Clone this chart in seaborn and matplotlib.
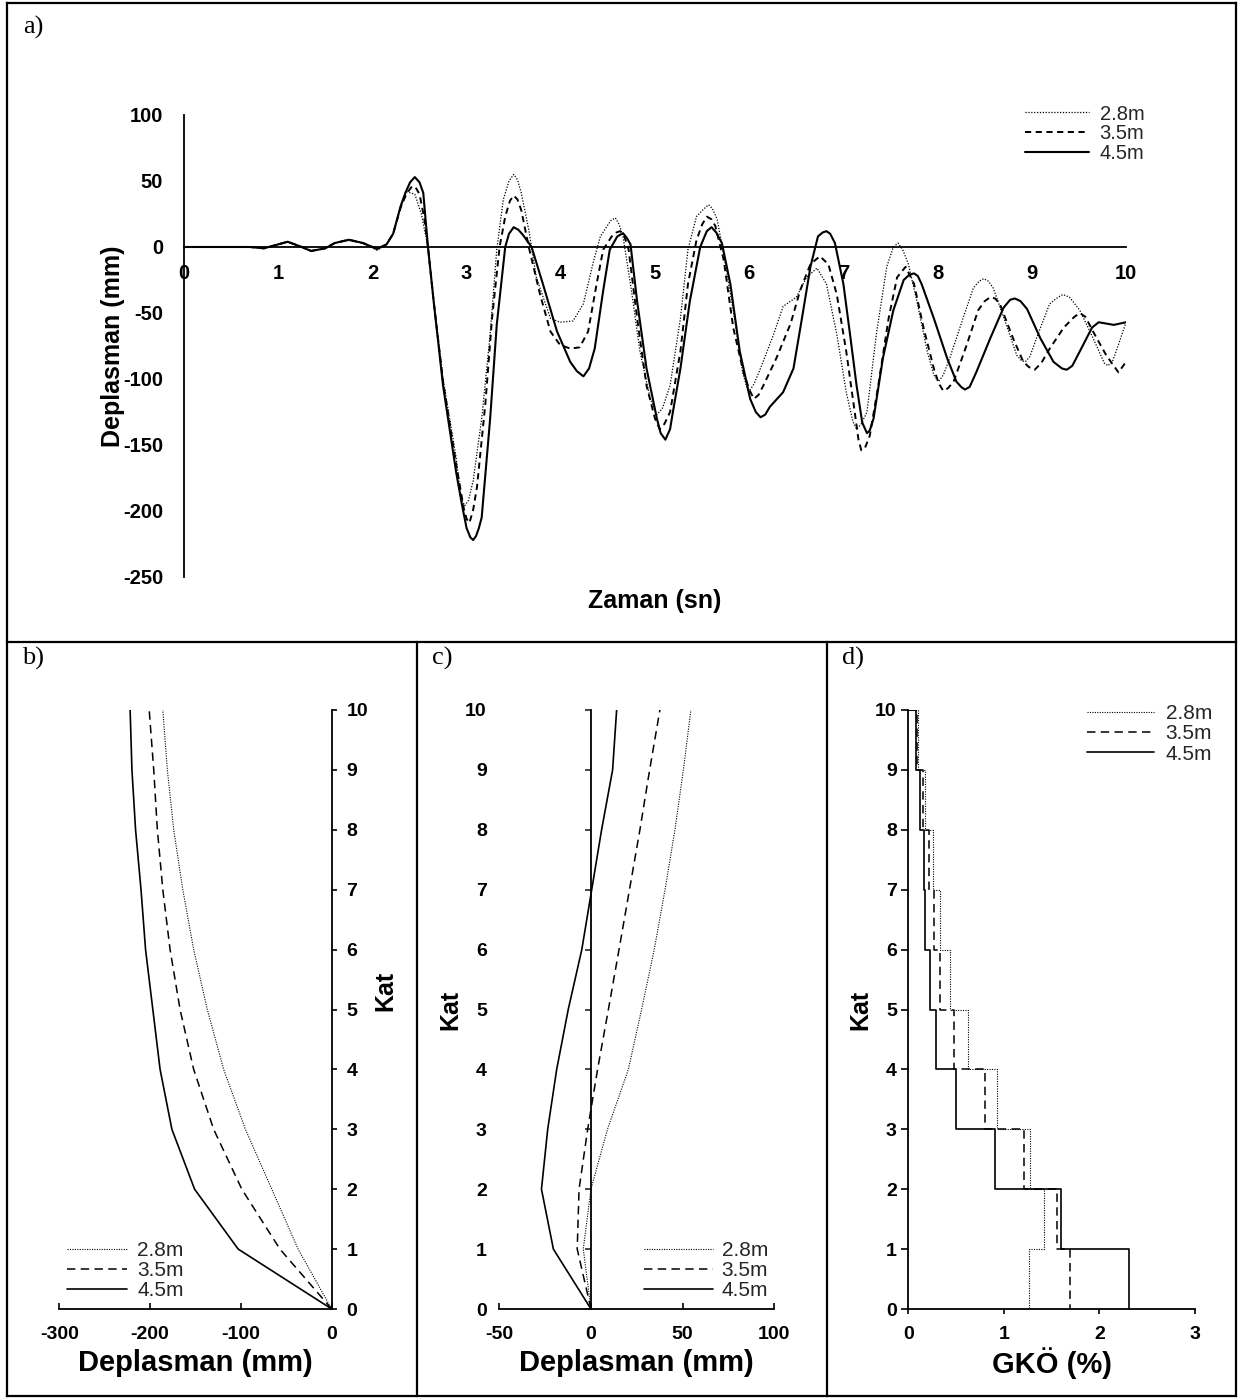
import numpy as np
import pandas as pd
import matplotlib
matplotlib.use("Agg")
import matplotlib.pyplot as plt
import seaborn as sns
from matplotlib.lines import Line2D

# ---------------- data ----------------
series_labels = ["2.8m", "3.5m", "4.5m"]

# a) time history of top displacement: (time s, displacement mm) readings
pts_28 = [(0, 0), (0.5, 0), (0.7, 0), (0.85, -1), (0.95, 1), (1.1, 3.5), (1.25, 0), (1.35, -3), (1.5, -1),
          (1.6, 3), (1.75, 5), (1.9, 3), (2.05, -2.5), (2.15, 2), (2.22, 10), (2.3, 30), (2.36, 42),
          (2.45, 40), (2.52, 25), (2.59, 0), (2.65, -40), (2.75, -100), (2.89, -160), (2.94, -190),
          (2.98, -196), (3.02, -192), (3.07, -177), (3.16, -130), (3.25, -66), (3.32, -2), (3.39, 36),
          (3.45, 50), (3.5, 55), (3.54, 51), (3.58, 41), (3.66, 13), (3.74, -23), (3.89, -54), (3.99, -57),
          (4.13, -56), (4.24, -43), (4.35, -10), (4.42, 8), (4.53, 20), (4.58, 22), (4.62, 17), (4.66, 8),
          (4.75, -33), (4.84, -79), (4.95, -115), (5.02, -127), (5.08, -122), (5.16, -105), (5.27, -54),
          (5.35, -2), (5.44, 23), (5.52, 29), (5.57, 32), (5.61, 29), (5.66, 21), (5.74, -10), (5.83, -48),
          (5.93, -95), (5.99, -110), (6.05, -104), (6.12, -92), (6.26, -66), (6.36, -45), (6.5, -38),
          (6.61, -23), (6.72, -16), (6.82, -28), (6.93, -66), (7.03, -110), (7.1, -132), (7.14, -138),
          (7.19, -134), (7.25, -125), (7.35, -66), (7.46, -15), (7.53, 0), (7.58, 3), (7.63, -2),
          (7.69, -13), (7.78, -41), (7.89, -79), (7.96, -97), (8.01, -102), (8.06, -97), (8.13, -84),
          (8.27, -54), (8.38, -31), (8.44, -26), (8.49, -24), (8.54, -26), (8.59, -31), (8.73, -59),
          (8.84, -82), (8.89, -86), (8.93, -87), (8.98, -83), (9.05, -69), (9.19, -43), (9.28, -38),
          (9.33, -36), (9.4, -38), (9.51, -48), (9.65, -69), (9.77, -88), (9.81, -90), (9.86, -86),
          (9.92, -74), (10.0, -57)]

pts_35 = [(0, 0), (0.5, 0), (0.7, 0), (0.85, -1), (0.95, 1), (1.1, 4), (1.25, 0), (1.35, -3), (1.5, -1),
          (1.6, 3), (1.75, 5.5), (1.9, 3), (2.05, -1.5), (2.15, 2), (2.22, 10), (2.3, 30), (2.36, 40),
          (2.42, 46), (2.46, 45), (2.5, 40), (2.55, 22), (2.59, 0), (2.65, -41), (2.75, -102), (2.89, -165),
          (2.97, -198), (3.0, -206), (3.03, -209), (3.07, -199), (3.11, -182), (3.2, -118), (3.27, -54),
          (3.35, 0), (3.41, 23), (3.46, 35), (3.5, 39), (3.54, 36), (3.58, 28), (3.66, 0), (3.78, -36),
          (3.89, -64), (3.99, -74), (4.1, -77), (4.2, -76), (4.29, -64), (4.38, -28), (4.45, -2), (4.54, 8),
          (4.59, 11), (4.63, 12), (4.67, 9), (4.72, -2), (4.81, -54), (4.91, -105), (5.0, -130),
          (5.05, -138), (5.1, -134), (5.16, -125), (5.27, -79), (5.35, -28), (5.44, 5), (5.5, 17),
          (5.55, 23), (5.6, 21), (5.64, 16), (5.73, -10), (5.83, -61), (5.94, -95), (6.0, -108),
          (6.05, -115), (6.1, -112), (6.15, -105), (6.29, -84), (6.44, -58), (6.54, -33), (6.65, -13),
          (6.75, -7), (6.84, -13), (6.93, -36), (7.03, -79), (7.12, -125), (7.16, -146), (7.19, -154),
          (7.23, -152), (7.28, -143), (7.37, -105), (7.48, -54), (7.57, -23), (7.66, -15), (7.75, -28),
          (7.85, -61), (7.96, -92), (8.01, -103), (8.06, -109), (8.11, -107), (8.17, -102), (8.31, -74),
          (8.43, -48), (8.5, -41), (8.56, -38), (8.61, -39), (8.66, -43), (8.8, -69), (8.91, -87),
          (8.97, -91), (9.03, -93), (9.1, -88), (9.19, -77), (9.34, -61), (9.45, -53), (9.51, -50),
          (9.57, -53), (9.65, -64), (9.79, -82), (9.92, -95), (10.0, -87)]

pts_45 = [(0, 0), (0.5, 0), (0.7, 0), (0.85, -1), (0.95, 1), (1.1, 4), (1.25, 0), (1.35, -3), (1.5, -1),
          (1.6, 3), (1.75, 5.5), (1.9, 3), (2.05, -1.5), (2.15, 2), (2.22, 10), (2.3, 31), (2.35, 41),
          (2.4, 49), (2.45, 53), (2.5, 49), (2.54, 41), (2.59, 0), (2.65, -41), (2.75, -105), (2.89, -171),
          (2.95, -195), (3.0, -213), (3.04, -220), (3.07, -222), (3.1, -219), (3.13, -213), (3.16, -205),
          (3.25, -130), (3.32, -59), (3.41, 0), (3.45, 10), (3.5, 15), (3.55, 13), (3.6, 9), (3.69, 0),
          (3.81, -28), (3.96, -64), (4.1, -87), (4.17, -94), (4.24, -98), (4.3, -92), (4.36, -77),
          (4.45, -33), (4.52, -2), (4.6, 8), (4.66, 10.5), (4.7, 7), (4.74, 2), (4.81, -41), (4.91, -92),
          (5.02, -130), (5.06, -141), (5.11, -146), (5.16, -138), (5.19, -125), (5.27, -92), (5.37, -41),
          (5.48, 0), (5.55, 12), (5.6, 15), (5.65, 11), (5.71, 3), (5.8, -28), (5.9, -79), (6.01, -115),
          (6.07, -125), (6.12, -129), (6.17, -127), (6.22, -121), (6.36, -110), (6.47, -92), (6.56, -54),
          (6.65, -15), (6.73, 8), (6.78, 11), (6.82, 12), (6.86, 10), (6.91, 3), (7.0, -28), (7.07, -66),
          (7.14, -105), (7.2, -133), (7.25, -141), (7.28, -139), (7.32, -130), (7.42, -84), (7.53, -48),
          (7.64, -25), (7.7, -21), (7.75, -20), (7.79, -22), (7.83, -28), (7.96, -54), (8.1, -84),
          (8.2, -102), (8.25, -106), (8.29, -108), (8.34, -106), (8.41, -95), (8.56, -69), (8.7, -46),
          (8.77, -40), (8.82, -39), (8.88, -41), (8.95, -47), (9.09, -69), (9.23, -87), (9.32, -92),
          (9.37, -93), (9.43, -90), (9.51, -79), (9.64, -61), (9.71, -57), (9.87, -59), (10.0, -57)]

floors = list(range(0, 11))
# b) floor displacement envelope (mm)
b_28 = [0, -37, -66, -95, -119, -137, -152, -164, -174, -181, -186]
b_35 = [0, -57, -99, -130, -152, -167, -178, -186, -192, -196, -201]
b_45 = [0, -103, -151, -176, -189, -197, -205, -210, -216, -220, -222]
# c) floor displacement (mm)
c_28 = [0, -4.2, 0, 9, 20.4, 27.6, 34.5, 40.4, 45.8, 50.4, 54.5]
c_35 = [0, -7.5, -6.5, -1.8, 3.6, 9.5, 15.3, 21, 26.7, 32, 37.6]
c_45 = [0, -20.5, -27, -23.6, -18.7, -12.4, -5, 0.4, 5.8, 11.8, 14]
# d) inter-storey drift ratio (%) for stories 1..10
stories = list(range(1, 11))
g_28 = [1.26, 1.42, 1.27, 0.93, 0.62, 0.44, 0.33, 0.26, 0.17, 0.10]
g_35 = [1.69, 1.56, 1.21, 0.80, 0.48, 0.33, 0.27, 0.22, 0.15, 0.09]
g_45 = [2.31, 1.60, 0.91, 0.50, 0.29, 0.23, 0.17, 0.16, 0.12, 0.08]

a_ticks_x = list(range(0, 11))
a_ticks_y = list(range(-250, 101, 50))

# ---------------- style ----------------
sns.set_theme(style="white")
plt.rcParams["font.family"] = ["Liberation Sans", "DejaVu Sans"]
plt.rcParams["font.weight"] = "bold"
plt.rcParams["axes.labelweight"] = "bold"
plt.rcParams["axes.unicode_minus"] = False

W, H = 1250, 1400
fig = plt.figure(figsize=(W / 100, H / 100), dpi=100)
fig.patch.set_facecolor("white")


def fr(x0, y_top, x1, y_bot):
    return [x0 / W, 1 - y_bot / H, (x1 - x0) / W, (y_bot - y_top) / H]


top_styles = {
    "2.8m": dict(lw=0.9, ls=(0, (1, 1.3))),
    "3.5m": dict(lw=1.4, ls=(0, (3.2, 2.3))),
    "4.5m": dict(lw=1.5, ls="-"),
}
bot_styles = {
    "2.8m": dict(lw=0.8, ls=(0, (1, 1.2))),
    "3.5m": dict(lw=1.1, ls=(0, (5.5, 3.5))),
    "4.5m": dict(lw=1.2, ls="-"),
}

# ---------------- a) ----------------
axa = fig.add_axes(fr(184, 115, 1126, 577))
for lab, pts in zip(series_labels, [pts_28, pts_35, pts_45]):
    tt, dd = zip(*pts)
    st = top_styles[lab]
    sns.lineplot(x=list(tt), y=list(dd), ax=axa, color="black", linewidth=st["lw"], linestyle=st["ls"],
                 label=lab, sort=False, estimator=None, legend=False)
axa.set_xlim(0, 10)
axa.set_ylim(-250, 100)
axa.set_xticks(a_ticks_x)
axa.set_yticks(a_ticks_y)
axa.spines["bottom"].set_position(("data", 0))
for s in ["top", "right"]:
    axa.spines[s].set_visible(False)
for s in ["left", "bottom"]:
    axa.spines[s].set_color("black")
    axa.spines[s].set_linewidth(1.3)
axa.tick_params(axis="x", length=0, pad=12.5, labelsize=14.5, colors="black")
axa.tick_params(axis="y", length=0, pad=15, labelsize=14.5, colors="black")
axa.set_xlabel("Zaman (sn)", fontsize=18, fontweight="bold", color="black")
axa.set_ylabel("Deplasman (mm)", fontsize=18, fontweight="bold", color="black")
axa.xaxis.label.set_va("center")
axa.yaxis.label.set_va("center")
axa.xaxis.set_label_coords(0.5, (577 - 601) / 462)
axa.yaxis.set_label_coords((113 - 184) / 942, 0.5)
axa.set_facecolor("none")
h, l = axa.get_legend_handles_labels()
axa.legend(h, l, loc="upper left", bbox_to_anchor=(1025 / W, 1 - 104.5 / H),
           bbox_transform=fig.transFigure, frameon=False,
           prop={"size": 14.5, "weight": "normal"},
           handlelength=3.2, handletextpad=0.5, labelspacing=0.03,
           borderpad=0, borderaxespad=0)

Y10, Y0 = 710, 1309
AXH = Y0 - Y10


def style_bottom(ax):
    ax.set_facecolor("none")
    for s in ax.spines.values():
        s.set_color("black")
        s.set_linewidth(1.3)
    ax.set_ylim(0, 10)
    ax.set_yticks(floors)


def bot_labels(ax, xlabel, kat_x, kat_y=0.5):
    ax.set_xlabel(xlabel, fontsize=21, fontweight="bold", color="black")
    ax.set_ylabel("Kat", fontsize=18, fontweight="bold", color="black")
    ax.xaxis.label.set_va("center")
    ax.yaxis.label.set_va("center")
    ax.xaxis.set_label_coords(0.5, (Y0 - 1363) / AXH)
    ax.yaxis.set_label_coords(kat_x, kat_y)


def tick_font(ax):
    for t in ax.get_xticklabels() + ax.get_yticklabels():
        t.set_fontweight("bold")
        t.set_fontsize(14)


def bot_legend(ax, x_left, y_top, hl, tp):
    h, l = ax.get_legend_handles_labels()
    ax.legend(h, l, loc="upper left", bbox_to_anchor=(x_left / W, 1 - y_top / H),
              bbox_transform=fig.transFigure, frameon=False,
              prop={"size": 15, "weight": "normal"},
              handlelength=hl, handletextpad=tp, labelspacing=0.06,
              borderpad=0, borderaxespad=0)


# ---------------- b) ----------------
axb = fig.add_axes(fr(59.3, Y10, 331.7, Y0))
for lab, xs in zip(series_labels, [b_28, b_35, b_45]):
    st = bot_styles[lab]
    sns.lineplot(x=xs, y=floors, ax=axb, color="black", linewidth=st["lw"], linestyle=st["ls"],
                 label=lab, sort=False, estimator=None, legend=False)
style_bottom(axb)
axb.set_xlim(-300, 0)
axb.set_xticks([-300, -200, -100, 0])
axb.spines["left"].set_visible(False)
axb.spines["top"].set_visible(False)
axb.yaxis.tick_right()
axb.yaxis.set_label_position("right")
axb.tick_params(axis="y", which="both", right=True, left=False, direction="out", length=3.6,
                width=1.2, pad=7, colors="black")
axb.tick_params(axis="x", bottom=True, direction="in", length=4.3, width=1.2, pad=12.4, colors="black")
tick_font(axb)
bot_labels(axb, "Deplasman (mm)", (385 - 59.3) / 272.4, (Y0 - 991) / AXH)
bot_legend(axb, 67, 1241, 2.9, 0.48)

# ---------------- c) ----------------
axc = fig.add_axes(fr(499.3, Y10, 774.3, Y0))
for lab, xs in zip(series_labels, [c_28, c_35, c_45]):
    st = bot_styles[lab]
    sns.lineplot(x=xs, y=floors, ax=axc, color="black", linewidth=st["lw"], linestyle=st["ls"],
                 label=lab, sort=False, estimator=None, legend=False)
style_bottom(axc)
axc.set_xlim(-50, 100)
axc.set_xticks([-50, 0, 50, 100])
axc.spines["left"].set_position(("data", 0))
axc.spines["top"].set_visible(False)
axc.spines["right"].set_visible(False)
axc.tick_params(axis="y", left=True, direction="out", length=4.3, width=1.2, labelleft=False)
axc.tick_params(axis="x", bottom=True, direction="in", length=4.3, width=1.2, pad=12.4, colors="black")
sec = axc.secondary_yaxis(0.0)
sec.set_yticks(floors)
sec.spines["left"].set_visible(False)
sec.tick_params(length=0, pad=9, colors="black")
for t in sec.get_yticklabels():
    t.set_fontweight("bold")
    t.set_fontsize(14)
tick_font(axc)
bot_labels(axc, "Deplasman (mm)", (450 - 499.3) / 275)
bot_legend(axc, 644, 1241, 3.3, 0.43)

# ---------------- d) ----------------
axd = fig.add_axes(fr(908.3, Y10, 1195, Y0))
for lab, gs in zip(series_labels, [g_28, g_35, g_45]):
    st = bot_styles[lab]
    # step path built from storey values: start at top floor on the axis
    xs, ys = [0.0], [stories[-1]]
    for s, g in zip(stories[::-1], gs[::-1]):
        xs += [g, g]
        ys += [s, s - 1]
    sns.lineplot(x=xs, y=ys, ax=axd, color="black", linewidth=st["lw"], linestyle=st["ls"],
                 label=lab, sort=False, estimator=None, legend=False)
style_bottom(axd)
axd.set_xlim(0, 3)
axd.set_xticks([0, 1, 2, 3])
axd.spines["top"].set_visible(False)
axd.spines["right"].set_visible(False)
axd.tick_params(axis="y", left=True, direction="out", length=5, width=1.2, pad=3.3, colors="black")
axd.tick_params(axis="x", bottom=True, direction="out", length=3.6, width=1.2, pad=8.9, colors="black")
tick_font(axd)
bot_labels(axd, "GKÖ (%)", (860 - 908.3) / 286.7)
bot_legend(axd, 1087, 704, 3.2, 0.58)

# ---------------- frame & panel letters ----------------
def fline(x0, y0, x1, y1):
    fig.add_artist(Line2D([x0 / W, x1 / W], [1 - y0 / H, 1 - y1 / H], transform=fig.transFigure,
                          color="black", lw=1.6, solid_capstyle="projecting"))


fline(7, 3, 1236, 3)
fline(7, 3, 7, 1396)
fline(1236, 3, 1236, 1396)
fline(7, 1396, 1236, 1396)
fline(7, 642, 1236, 642)
fline(417, 642, 417, 1396)
fline(827, 642, 827, 1396)

for txt, x, y in [("a)", 23, 27), ("b)", 22, 658), ("c)", 432, 658), ("d)", 842, 658)]:
    fig.text(x / W, 1 - y / H, txt, family="Liberation Serif", fontsize=19, fontweight="normal",
             va="center", ha="left", color="black")

fig.savefig("out.png", dpi=100, facecolor="white")
